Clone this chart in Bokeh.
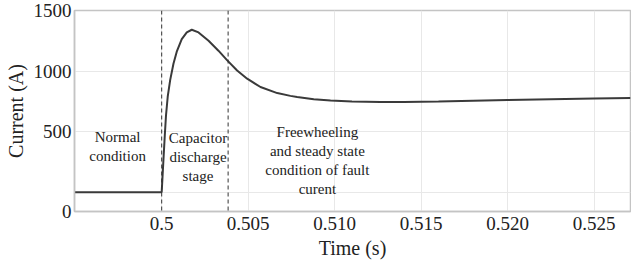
from bokeh.plotting import figure
from bokeh.models import FixedTicker, NumeralTickFormatter, Range1d, Span, Label
from bokeh.embed import file_html
from bokeh.resources import INLINE

time_s = [0.49496, 0.5, 0.50010, 0.50018, 0.50025, 0.50035, 0.50049, 0.50068, 0.50087,
          0.50116, 0.50145, 0.50174, 0.50213, 0.50271, 0.50328, 0.50379, 0.50436,
          0.50494, 0.50571, 0.50668, 0.50744, 0.50783, 0.50879, 0.50976, 0.51100,
          0.51265, 0.51400, 0.51600, 0.51800, 0.52000, 0.52250, 0.52500, 0.52710]
current_a = [0, 0, 264, 470, 635, 790, 925, 1060, 1160,
             1263, 1319, 1341, 1319, 1250, 1168, 1088, 1005,
             937, 868, 818, 795, 786, 768, 756, 749,
             745, 745, 749, 755, 761, 767, 773, 777]

x_ticks = [0.5, 0.505, 0.51, 0.515, 0.52, 0.525]
y_ticks = [-160, 0, 500, 1000, 1500]
stage_bounds = [0.5, 0.50384]
stage_labels = ["Normal\ncondition", "Capacitor\ndischarge\nstage",
                "Freewheeling\nand steady state\ncondition of fault\ncurent"]
stage_label_x = [0.49745, 0.50210, 0.50900]
stage_label_y = [379, 288, 260]

FONT = "'Liberation Serif', serif"

p = figure(width=631, height=265, output_backend="svg", toolbar_location=None,
           x_range=Range1d(0.49496, 0.5271), y_range=Range1d(-160, 1500),
           min_border_left=74, min_border_right=1, min_border_top=10, min_border_bottom=54,
           background_fill_color="white", border_fill_color="white")
p.outline_line_color = "#c4c4c4"
p.outline_line_width = 1.5

p.xaxis.ticker = FixedTicker(ticks=x_ticks)
p.yaxis.ticker = FixedTicker(ticks=y_ticks)
p.xaxis.formatter = NumeralTickFormatter(format="0.000")
p.xaxis.major_label_overrides = {0.5: "0.5"}
p.yaxis.major_label_overrides = {-160: "0", 0: ""}
for ax in (p.xaxis[0], p.yaxis[0]):
    ax.axis_line_color = "#c4c4c4"
    ax.axis_line_width = 1.5
    ax.major_tick_out = 0
    ax.major_tick_in = 0
    ax.minor_tick_out = 0
    ax.minor_tick_in = 0
    ax.major_label_text_font = FONT
    ax.major_label_text_font_size = "19px"
    ax.major_label_text_color = "#222222"
    ax.axis_label_text_font = FONT
    ax.axis_label_text_font_size = "20px"
    ax.axis_label_text_font_style = "normal"
    ax.axis_label_text_color = "#222222"
p.xaxis.axis_label = "Time (s)"
p.yaxis.axis_label = "Current (A)"
p.xaxis.major_label_standoff = 5
p.yaxis.major_label_standoff = 3
p.xaxis.axis_label_standoff = 4
p.yaxis.axis_label_standoff = 4

p.xgrid.grid_line_color = "#e8e8e8"
p.ygrid.grid_line_color = "#e8e8e8"

p.line(time_s, current_a, line_color="#3a3a3a", line_width=2)

for b in stage_bounds:
    p.add_layout(Span(location=b, dimension="height", line_color="#333333",
                      line_width=1, line_dash="4 3"))

for txt, lx, ly in zip(stage_labels, stage_label_x, stage_label_y):
    p.add_layout(Label(x=lx, y=ly, text=txt, text_align="center", text_baseline="middle",
                       text_font=FONT, text_font_size="15px", text_color="#222222",
                       text_line_height=1.2))

open("out.html", "w").write(file_html(p, INLINE))
